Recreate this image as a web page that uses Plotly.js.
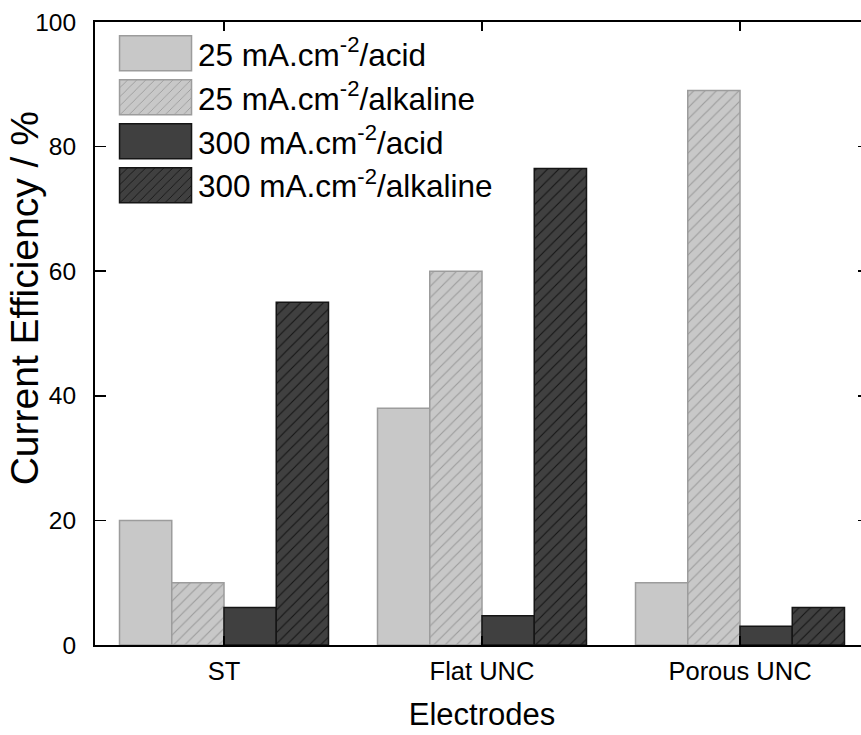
<!DOCTYPE html>
<html>
<head>
<meta charset="utf-8">
<script src="https://cdn.plot.ly/plotly-3.0.1.min.js"></script>
<style>
html, body { margin: 0; padding: 0; overflow: hidden; background: #fff; }
#chart { width: 875px; height: 735px; }
</style>
</head>
<body>
<div id="chart"></div>
<script>
// ---- data ----
const categories = ['ST', 'Flat UNC', 'Porous UNC'];
const acid25 = [20, 38, 10];
const alkaline25 = [10, 60, 89];
const acid300 = [6, 4.7, 3];
const alkaline300 = [55, 76.5, 6];
const seriesNames = [
  '25 mA.cm<sup>-2</sup>/acid',
  '25 mA.cm<sup>-2</sup>/alkaline',
  '300 mA.cm<sup>-2</sup>/acid',
  '300 mA.cm<sup>-2</sup>/alkaline'
];
const yTickVals = [0, 20, 40, 60, 80, 100];

const FONT = 'Liberation Sans, Arial, sans-serif';
const LIGHT = '#c8c8c8', LIGHT_EDGE = '#9c9c9c';
const DARK = '#404040', DARK_EDGE = '#151515';

function barTrace(vals, name, fill, edge, hatch) {
  const marker = { color: fill, line: { color: edge, width: 1.5 } };
  if (hatch) {
    marker.pattern = { shape: '/', fgcolor: edge, bgcolor: fill, size: 8, solidity: 0.14, fillmode: 'replace' };
  }
  return { type: 'bar', x: categories, y: vals, name: name, marker: marker, hoverinfo: 'skip' };
}

const data = [
  barTrace(acid25, seriesNames[0], LIGHT, LIGHT_EDGE, false),
  barTrace(alkaline25, seriesNames[1], LIGHT, LIGHT_EDGE, true),
  barTrace(acid300, seriesNames[2], DARK, DARK_EDGE, false),
  barTrace(alkaline300, seriesNames[3], DARK, DARK_EDGE, true)
];

const layout = {
  width: 875, height: 735,
  margin: { l: 95, r: 6, t: 22, b: 90 },
  paper_bgcolor: '#fff', plot_bgcolor: '#fff',
  font: { family: FONT, color: '#000' },
  barmode: 'group', bargap: 0.19, bargroupgap: 0,
  showlegend: true,
  legend: {
    x: 0.0233, y: 0.993, xanchor: 'left', yanchor: 'top',
    bgcolor: 'rgba(0,0,0,0)', borderwidth: 0,
    font: { family: FONT, size: 31.5, color: '#000' },
    itemwidth: 75, traceorder: 'normal'
  },
  xaxis: {
    type: 'category', range: [-0.5, 2.5],
    showline: true, linecolor: '#000', linewidth: 2, mirror: 'ticks',
    ticks: 'inside', ticklen: 9, tickwidth: 1.5, tickcolor: '#000',
    showgrid: false, zeroline: false,
    tickfont: { family: FONT, size: 25.5, color: '#000' },
    ticklabelstandoff: 2,
    title: { text: 'Electrodes', font: { family: FONT, size: 31, color: '#000' }, standoff: 20 },
    automargin: false, fixedrange: true
  },
  yaxis: {
    range: [0, 100], tickvals: yTickVals,
    showline: true, linecolor: '#000', linewidth: 2, mirror: 'ticks',
    ticks: 'inside', ticklen: 11, tickwidth: 1.5, tickcolor: '#000',
    showgrid: false, zeroline: false,
    tickfont: { family: FONT, size: 24.5, color: '#000' },
    ticklabelstandoff: 12,
    automargin: false, fixedrange: true
  },
  annotations: [{
    text: 'Current Efficiency / %', textangle: -90,
    xref: 'paper', yref: 'paper', x: -0.09, y: 0.557,
    xanchor: 'center', yanchor: 'middle', showarrow: false,
    font: { family: FONT, size: 39, color: '#000' }
  }]
};

Plotly.newPlot('chart', data, layout, { staticPlot: true, displayModeBar: false }).then(function (gd) {
  // enlarge legend swatches to the reference's wide rectangles
  gd.querySelectorAll('.legend .legendpoints path').forEach(function (p) {
    p.setAttribute('d', 'M36,17.5H-36V-17.5H36Z');
  });
});
</script>
</body>
</html>
